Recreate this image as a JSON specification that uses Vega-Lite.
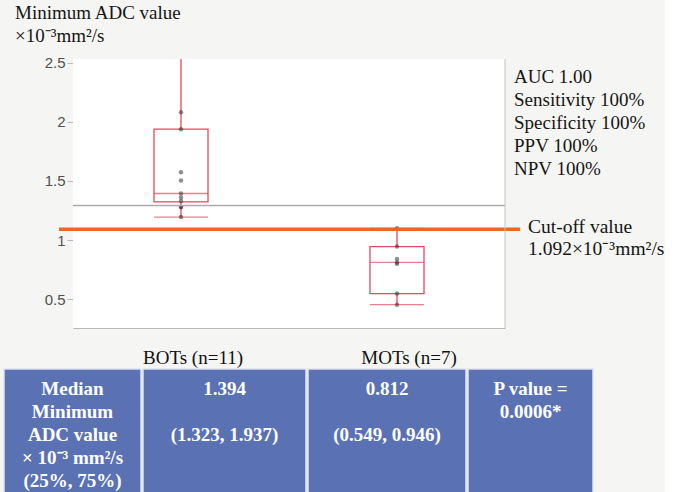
{
  "$schema": "https://vega.github.io/schema/vega-lite/v6.json",
  "background": "#f5f5f3",
  "padding": {"left": 3, "top": 3, "right": 0, "bottom": 0},
  "spacing": 1,
  "config": {"view": {"stroke": null}, "font": "Liberation Serif", "concat": {"spacing": 0}},
  "datasets": {
    "boxes": [
      {"group": "BOTs (n=11)", "lo": 1.195, "q1": 1.323, "med": 1.394, "q3": 1.937, "hi": 2.75},
      {"group": "MOTs (n=7)", "lo": 0.455, "q1": 0.549, "med": 0.812, "q3": 0.946, "hi": 1.1}
    ],
    "pts": [
      {"group": "BOTs (n=11)", "v": 2.75},
      {"group": "BOTs (n=11)", "v": 2.08},
      {"group": "BOTs (n=11)", "v": 1.937},
      {"group": "BOTs (n=11)", "v": 1.574},
      {"group": "BOTs (n=11)", "v": 1.504},
      {"group": "BOTs (n=11)", "v": 1.394},
      {"group": "BOTs (n=11)", "v": 1.36},
      {"group": "BOTs (n=11)", "v": 1.33},
      {"group": "BOTs (n=11)", "v": 1.279},
      {"group": "BOTs (n=11)", "v": 1.279},
      {"group": "BOTs (n=11)", "v": 1.195},
      {"group": "MOTs (n=7)", "v": 1.1},
      {"group": "MOTs (n=7)", "v": 0.946},
      {"group": "MOTs (n=7)", "v": 0.84},
      {"group": "MOTs (n=7)", "v": 0.812},
      {"group": "MOTs (n=7)", "v": 0.8},
      {"group": "MOTs (n=7)", "v": 0.549},
      {"group": "MOTs (n=7)", "v": 0.455}
    ],
    "gray": [{"v": 1.293}],
    "cutoff": [{"v": 1.092}],
    "heading": [
      {"label": "Minimum ADC value", "v": 2.869},
      {"label": "×10⁻³mm²/s", "v": 2.672}
    ],
    "table": [
      {"col": 1, "line": 1, "text": "Median"},
      {"col": 1, "line": 2, "text": "Minimum"},
      {"col": 1, "line": 3, "text": "ADC value"},
      {"col": 1, "line": 4, "text": "× 10⁻³ mm²/s"},
      {"col": 1, "line": 5, "text": "(25%, 75%)"},
      {"col": 2, "line": 1, "text": "1.394"},
      {"col": 2, "line": 3, "text": "(1.323, 1.937)"},
      {"col": 3, "line": 1, "text": "0.812"},
      {"col": 3, "line": 3, "text": "(0.549, 0.946)"},
      {"col": 4, "line": 1, "text": "P value ="},
      {"col": 4, "line": 2, "text": "0.0006*"}
    ]
  },
  "vconcat": [
    {
      "width": 501,
      "height": 269,
      "view": {"fill": null, "stroke": null},
      "layer": [
        {
          "data": {"values": [{}]},
          "mark": {"type": "rect", "color": "white"},
          "encoding": {
            "x": {"datum": "BOTs (n=11)", "type": "nominal", "bandPosition": -1.5,
                  "scale": {"type": "band", "range": [69, 501], "paddingInner": 0.75, "paddingOuter": 0.375, "domain": ["BOTs (n=11)", "MOTs (n=7)"]},
                  "axis": {"title": null, "ticks": false, "domain": true, "domainColor": "#b8b8b8", "labelAngle": 0,
                           "labelFont": "Liberation Serif", "labelFontSize": 19, "labelColor": "#111",
                           "labelPadding": 20, "labelOffset": 12}},
            "x2": {"datum": "MOTs (n=7)", "bandPosition": 2.5},
            "y": {"datum": 0.258, "type": "quantitative",
                  "scale": {"domain": [0.258, 2.53], "nice": false, "zero": false},
                  "axis": {"values": [0.5, 0.75, 1, 1.25, 1.5, 1.75, 2, 2.25, 2.5],
                           "labelExpr": "datum.value % 0.5 === 0 ? format(datum.value, '') : ''",
                           "grid": false, "domainColor": "#b8b8b8", "tickColor": "#b8b8b8", "tickSize": 6,
                           "labelFont": "Liberation Sans", "labelFontSize": 15, "labelColor": "#505050",
                           "labelPadding": 2, "offset": -69, "title": null}},
            "y2": {"datum": 2.53}
          }
        },
        {
          "data": {"name": "boxes"},
          "mark": {"type": "rule", "color": "#e5485f", "strokeWidth": 1.3},
          "encoding": {
            "x": {"field": "group", "type": "nominal"},
            "y": {"field": "lo", "type": "quantitative"},
            "y2": {"field": "q1"}
          }
        },
        {
          "data": {"name": "boxes"},
          "mark": {"type": "rule", "color": "#e5485f", "strokeWidth": 1.3, "clip": true},
          "encoding": {
            "x": {"field": "group", "type": "nominal"},
            "y": {"field": "q3", "type": "quantitative"},
            "y2": {"field": "hi"}
          }
        },
        {
          "data": {"name": "boxes"},
          "mark": {"type": "bar", "filled": false, "color": "#e5485f", "strokeWidth": 1.3},
          "encoding": {
            "x": {"field": "group", "type": "nominal"},
            "y": {"field": "q1", "type": "quantitative"},
            "y2": {"field": "q3"}
          }
        },
        {
          "data": {"name": "boxes"},
          "mark": {"type": "tick", "color": "#e5485f", "thickness": 1.3, "size": 54},
          "encoding": {
            "x": {"field": "group", "type": "nominal"},
            "y": {"field": "med", "type": "quantitative"}
          }
        },
        {
          "data": {"name": "boxes"},
          "mark": {"type": "tick", "color": "#e5485f", "thickness": 1.3, "size": 54},
          "encoding": {
            "x": {"field": "group", "type": "nominal"},
            "y": {"field": "lo", "type": "quantitative"}
          }
        },
        {
          "data": {"name": "boxes"},
          "mark": {"type": "tick", "color": "#e5485f", "thickness": 1.3, "size": 54, "clip": true},
          "encoding": {
            "x": {"field": "group", "type": "nominal"},
            "y": {"field": "hi", "type": "quantitative"}
          }
        },
        {
          "data": {"name": "pts"},
          "mark": {"type": "circle", "size": 20, "color": "#333", "opacity": 0.55, "clip": true},
          "encoding": {
            "x": {"field": "group", "type": "nominal"},
            "y": {"field": "v", "type": "quantitative"}
          }
        },
        {
          "data": {"name": "gray"},
          "mark": {"type": "rule", "color": "#ababab", "strokeWidth": 1.6},
          "encoding": {
            "x": {"datum": "BOTs (n=11)", "type": "nominal", "bandPosition": -1.5},
            "x2": {"datum": "MOTs (n=7)", "bandPosition": 2.5},
            "y": {"field": "v", "type": "quantitative"}
          }
        },
        {
          "data": {"name": "cutoff"},
          "mark": {"type": "rule", "color": "#f0651f", "strokeWidth": 3.4},
          "encoding": {
            "x": {"datum": "BOTs (n=11)", "type": "nominal", "bandPosition": -1.76},
            "x2": {"datum": "MOTs (n=7)", "bandPosition": 2.78},
            "y": {"field": "v", "type": "quantitative"}
          }
        },
        {
          "data": {"values": [{}]},
          "mark": {"type": "rule", "color": "#c4c4c4", "strokeWidth": 1},
          "encoding": {"x": {"value": "width"}}
        },
        {
          "data": {"name": "heading"},
          "mark": {"type": "text", "align": "left", "baseline": "alphabetic", "dx": 11, "fontSize": 19,
                   "font": "Liberation Serif", "fontWeight": "normal", "color": "#151515"},
          "encoding": {"x": {"value": 0}, "y": {"field": "v", "type": "quantitative"}, "text": {"field": "label", "type": "nominal"}}
        },
        {
          "data": {"values": [{}]},
          "mark": {"type": "text", "text": ["AUC 1.00", "Sensitivity 100%", "Specificity 100%", "PPV 100%", "NPV 100%"],
                   "align": "left", "baseline": "alphabetic", "dx": 9, "fontSize": 19, "lineHeight": 23,
                   "font": "Liberation Serif", "color": "#151515"},
          "encoding": {"x": {"value": "width"}, "y": {"datum": 2.329}}
        },
        {
          "data": {"values": [{}]},
          "mark": {"type": "text", "text": ["Cut-off value", "1.092×10⁻³mm²/s"],
                   "align": "left", "baseline": "alphabetic", "dx": 23, "fontSize": 19.5, "lineHeight": 22,
                   "font": "Liberation Serif", "color": "#151515"},
          "encoding": {"x": {"value": "width"}, "y": {"datum": 1.06}}
        }
      ]
    },
    {
      "hconcat": [
        {
          "width": 137, "height": 125,
          "view": {"fill": "#5a72b3", "stroke": "#dde2f0", "strokeWidth": 1.5},
          "data": {"name": "table"},
          "transform": [{"filter": "datum.col === 1"}],
          "mark": {"type": "text", "color": "white", "font": "Liberation Serif", "fontSize": 19, "fontWeight": "bold"},
          "encoding": {
            "x": {"field": "col", "type": "nominal", "axis": null},
            "y": {"field": "line", "type": "ordinal", "axis": null,
                  "scale": {"type": "point", "domain": [1, 2, 3, 4, 5], "padding": 0.717, "align": 0.6}},
            "text": {"field": "text"}
          }
        },
        {
          "width": 163, "height": 125,
          "view": {"fill": "#5a72b3", "stroke": "#dde2f0", "strokeWidth": 1.5},
          "data": {"name": "table"},
          "transform": [{"filter": "datum.col === 2"}],
          "mark": {"type": "text", "color": "white", "font": "Liberation Serif", "fontSize": 19, "fontWeight": "bold"},
          "encoding": {
            "x": {"field": "col", "type": "nominal", "axis": null},
            "y": {"field": "line", "type": "ordinal", "axis": null,
                  "scale": {"type": "point", "domain": [1, 2, 3, 4, 5], "padding": 0.717, "align": 0.6}},
            "text": {"field": "text"}
          }
        },
        {
          "width": 158, "height": 125,
          "view": {"fill": "#5a72b3", "stroke": "#dde2f0", "strokeWidth": 1.5},
          "data": {"name": "table"},
          "transform": [{"filter": "datum.col === 3"}],
          "mark": {"type": "text", "color": "white", "font": "Liberation Serif", "fontSize": 19, "fontWeight": "bold"},
          "encoding": {
            "x": {"field": "col", "type": "nominal", "axis": null},
            "y": {"field": "line", "type": "ordinal", "axis": null,
                  "scale": {"type": "point", "domain": [1, 2, 3, 4, 5], "padding": 0.717, "align": 0.6}},
            "text": {"field": "text"}
          }
        },
        {
          "width": 125, "height": 125,
          "view": {"fill": "#5a72b3", "stroke": "#dde2f0", "strokeWidth": 1.5},
          "data": {"name": "table"},
          "transform": [{"filter": "datum.col === 4"}],
          "mark": {"type": "text", "color": "white", "font": "Liberation Serif", "fontSize": 19, "fontWeight": "bold"},
          "encoding": {
            "x": {"field": "col", "type": "nominal", "axis": null},
            "y": {"field": "line", "type": "ordinal", "axis": null,
                  "scale": {"type": "point", "domain": [1, 2, 3, 4, 5], "padding": 0.717, "align": 0.6}},
            "text": {"field": "text"}
          }
        }
      ]
    }
  ]
}
